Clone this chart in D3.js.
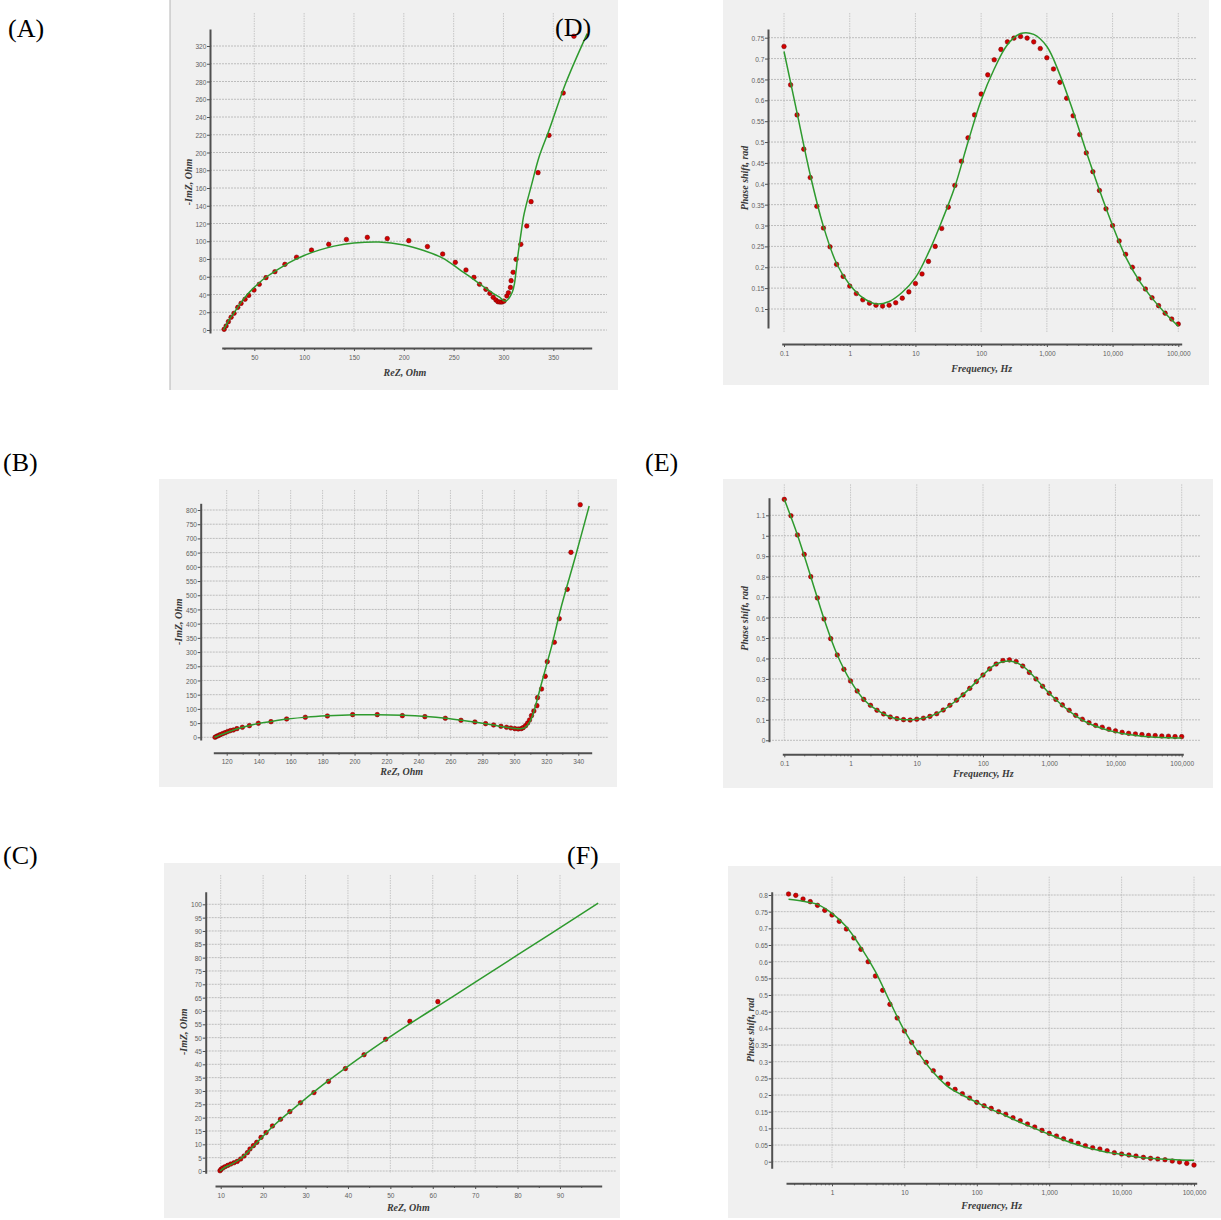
<!DOCTYPE html>
<html>
<head>
<meta charset="utf-8">
<script src="https://cdn.jsdelivr.net/npm/d3@7"></script>
<style>
  body { margin: 0; background: #fff; }
  svg { display: block; }
  .axis-title { font-family: 'Liberation Serif', 'Times New Roman', serif; font-weight: bold; font-style: italic; font-size: 10px; fill: #3a3a3a; }
  .panel-label { font-family: 'Liberation Serif', 'Times New Roman', serif; font-size: 26px; fill: #000; }
</style>
</head>
<body>
<svg id="chart"></svg>
<script>
// ---- Nyquist data (ReZ, -ImZ in Ohm) ----
let nyqA_re = [19.7, 21.7, 24, 26.7, 29.7, 33.4, 36.7, 40.7, 44.4, 49.7, 55, 61.7, 70.7, 80.7, 92.4, 107.4, 124.7, 142.4, 163.4, 183.4, 205, 223.7, 239, 251.7, 262.4, 270.4, 276, 282.4, 286.4, 289.7, 292.4, 294.4, 296.4, 298.4, 300.4, 303.4, 305, 307, 307.7, 309.7, 312.7, 317.4, 323.4, 327.7, 334.7, 345.7, 360, 370.7];
let nyqA_im = [0.75, 4.5, 9.4, 14.3, 18.8, 25.5, 30, 34.6, 39, 45, 51.5, 59, 65.7, 74, 82, 90, 96.5, 102, 104.4, 103, 100.7, 94, 85.6, 76.2, 67.6, 59.3, 51.5, 45.8, 41.3, 36.8, 33.8, 31.9, 31.5, 31.5, 32.5, 38.3, 42, 48, 55.6, 65, 79.6, 96.5, 117.2, 144.6, 177.3, 219.3, 267, 331];
let fitA_re = [19, 21, 25, 30, 36, 43, 50, 60, 72, 85, 100, 115, 130, 150, 175, 200, 220, 240, 256, 270, 281, 290, 296, 300.5, 303, 306, 309, 311, 312.5, 314, 315.7, 318, 320, 322.4, 327.7, 335.7, 345.7, 362.4, 384];
let fitA_im = [0, 4, 12, 20, 30, 40, 48, 58, 67, 76, 84, 90, 94.5, 98, 99.2, 95.8, 89.5, 80.5, 68, 57, 48, 41, 37, 33, 33, 36.5, 43, 52, 65, 80, 94, 112, 127, 139, 161.5, 195, 225, 278, 334];

let nyqB_re = [112.7, 113.7, 114.8, 116, 117.5, 119, 120.6, 122.3, 124.2, 126.4, 129.8, 134.2, 139.8, 147.7, 157.5, 169.2, 183, 198.8, 214.2, 229.9, 244, 256.8, 266.6, 275.3, 282, 287, 291.6, 295.1, 297.8, 300.3, 302.4, 304.3, 305.5, 307, 308.3, 309.5, 310.7, 312.2, 314.1, 314.5, 317, 319.3, 320.6, 325, 328.1, 333.1, 335.4, 341.2];
let nyqB_im = [0, 3.5, 5.9, 9.4, 12.9, 16.4, 20, 23.5, 25.8, 30.5, 35.2, 41, 49.3, 55, 64.5, 70.4, 75, 79.8, 79.8, 76.2, 72.7, 66.9, 59.8, 54, 48, 43.4, 38.7, 35.2, 32.8, 30.5, 29.3, 30.5, 34, 41, 50.4, 61, 76.2, 92.7, 111.4, 139.6, 170, 214.6, 266.2, 334.3, 417.5, 520.8, 651, 818.7];
let fitB_re = [112.3, 115, 120, 126, 134, 140, 148, 158, 170, 183, 200, 215, 230, 245, 257, 267, 276, 283, 289, 295, 300, 304, 306.6, 309.7, 311.8, 314.5, 317, 320.1, 323.3, 329.5, 337.9, 346.8];
let fitB_im = [0, 6, 17, 29, 41, 49, 56, 64, 71, 75.5, 79, 79.5, 77.5, 73, 67, 60, 53, 47, 41, 35, 31, 30, 34, 55, 84, 137, 190, 254, 320, 463, 630, 814];

let nyqC_re = [9.83, 10.07, 10.46, 11, 11.65, 12.35, 13.13, 13.9, 14.7, 15.5, 16.3, 16.9, 17.7, 18.5, 19.5, 20.7, 22.2, 24.1, 26.3, 28.8, 32, 35.4, 39.4, 43.8, 48.9, 54.6, 61.2];
let nyqC_im = [0.1, 0.6, 1.1, 1.6, 2.1, 2.6, 3.1, 3.6, 4.5, 5.6, 6.9, 8.25, 9.5, 10.75, 12.6, 14.4, 16.9, 19.4, 22.25, 25.6, 29.4, 33.6, 38.4, 43.6, 49.4, 56.1, 63.5];
let fitC_re = [9.83, 11, 12.6, 14.5, 16.1, 18.5, 22.4, 28.7, 35, 50, 65, 80, 99];
let fitC_im = [0, 1.4, 2.6, 4.4, 6.6, 10.6, 16.9, 25.4, 33.4, 50.4, 65.7, 81, 100.4];

// ---- Bode phase data (Frequency in Hz, phase shift in rad) ----
let freqHz = [
  0.1, 0.126, 0.158, 0.2, 0.251, 0.316, 0.398, 0.501, 0.631, 0.794,
  1, 1.26, 1.58, 2, 2.51, 3.16, 3.98, 5.01, 6.31, 7.94,
  10, 12.6, 15.8, 20, 25.1, 31.6, 39.8, 50.1, 63.1, 79.4,
  100, 126, 158, 200, 251, 316, 398, 501, 631, 794,
  1000, 1260, 1580, 2000, 2510, 3160, 3980, 5010, 6310, 7940,
  10000, 12600, 15800, 20000, 25100, 31600, 39800, 50100, 63100, 79400,
  100000
];
let phaseD = [
  0.729, 0.637, 0.565, 0.483, 0.415, 0.346, 0.294, 0.249, 0.207, 0.178,
  0.155, 0.137, 0.122, 0.114, 0.109, 0.107, 0.109, 0.115, 0.126, 0.141,
  0.161, 0.184, 0.214, 0.25, 0.293, 0.344, 0.396, 0.454, 0.51, 0.565,
  0.615, 0.661, 0.697, 0.722, 0.74, 0.749, 0.753, 0.749, 0.74, 0.724,
  0.702, 0.675, 0.643, 0.605, 0.563, 0.518, 0.474, 0.429, 0.384, 0.34,
  0.30, 0.263, 0.231, 0.2, 0.172, 0.148, 0.127, 0.108, 0.09, 0.076,
  0.064
];
let phaseE = [
  1.178, 1.098, 1.004, 0.909, 0.80, 0.696, 0.593, 0.497, 0.417, 0.347,
  0.29, 0.241, 0.20, 0.171, 0.147, 0.129, 0.114, 0.106, 0.101, 0.099,
  0.103, 0.108, 0.117, 0.13, 0.148, 0.171, 0.196, 0.222, 0.254, 0.287,
  0.319, 0.349, 0.373, 0.39, 0.393, 0.385, 0.363, 0.332, 0.30, 0.264,
  0.23, 0.20, 0.173, 0.147, 0.122, 0.103, 0.086, 0.073, 0.064, 0.054,
  0.046, 0.039, 0.034, 0.031, 0.028, 0.024, 0.023, 0.021, 0.02, 0.018,
  0.018
];
let freqF = freqHz.slice(4);
let phaseF = [
  0.803, 0.799, 0.788, 0.78, 0.769, 0.754,
  0.74, 0.721, 0.698, 0.671, 0.637, 0.60, 0.557, 0.514, 0.472, 0.431,
  0.392, 0.358, 0.327, 0.298, 0.273, 0.252, 0.233, 0.217, 0.204, 0.191,
  0.178, 0.168, 0.16, 0.15, 0.142, 0.132, 0.123, 0.113, 0.104, 0.094,
  0.085, 0.077, 0.069, 0.062, 0.055, 0.048, 0.042, 0.038, 0.033, 0.027,
  0.023, 0.02, 0.017, 0.013, 0.01, 0.008, 0.006, 0.002, -0.001, -0.005,
  -0.01
];

// fitted curves, sampled on every second frequency
let fitFreq = [0.1, 0.158, 0.251, 0.398, 0.631, 1, 1.58, 2.51, 3.98, 6.31, 10, 15.8, 25.1, 39.8, 63.1, 100, 158, 251, 398, 631, 1000, 1580, 2510, 3980, 6310, 10000, 15800, 25100, 39800, 63100, 100000];
let fitD = [0.717, 0.57, 0.421, 0.298, 0.209, 0.158, 0.127, 0.112, 0.118, 0.14, 0.175, 0.235, 0.31, 0.393, 0.50, 0.60, 0.675, 0.733, 0.76, 0.758, 0.729, 0.661, 0.573, 0.477, 0.385, 0.30, 0.225, 0.169, 0.126, 0.09, 0.059];
let fitE = [1.178, 1.004, 0.80, 0.593, 0.417, 0.29, 0.20, 0.147, 0.114, 0.101, 0.103, 0.117, 0.148, 0.196, 0.254, 0.319, 0.373, 0.388, 0.363, 0.30, 0.23, 0.17, 0.12, 0.082, 0.058, 0.04, 0.028, 0.02, 0.015, 0.012, 0.011];
let fitFreqF = fitFreq.slice(2);
let fitF = [0.787, 0.781, 0.772, 0.745, 0.705, 0.643, 0.57, 0.48, 0.393, 0.325, 0.268, 0.225, 0.20, 0.178, 0.157, 0.138, 0.118, 0.10, 0.082, 0.065, 0.05, 0.038, 0.028, 0.022, 0.015, 0.01, 0.007, 0.005, 0.004];

// ---- tick values ----
let ticksA_x = [50, 100, 150, 200, 250, 300, 350];
let ticksA_y = [0, 20, 40, 60, 80, 100, 120, 140, 160, 180, 200, 220, 240, 260, 280, 300, 320];
let ticksB_x = [120, 140, 160, 180, 200, 220, 240, 260, 280, 300, 320, 340];
let ticksB_y = [0, 50, 100, 150, 200, 250, 300, 350, 400, 450, 500, 550, 600, 650, 700, 750, 800];
let ticksC_x = [10, 20, 30, 40, 50, 60, 70, 80, 90];
let ticksC_y = [0, 5, 10, 15, 20, 25, 30, 35, 40, 45, 50, 55, 60, 65, 70, 75, 80, 85, 90, 95, 100];
let ticksFreq = [0.1, 1, 10, 100, 1000, 10000, 100000];
let ticksD_y = [0.1, 0.15, 0.2, 0.25, 0.3, 0.35, 0.4, 0.45, 0.5, 0.55, 0.6, 0.65, 0.7, 0.75];
let ticksE_y = [0, 0.1, 0.2, 0.3, 0.4, 0.5, 0.6, 0.7, 0.8, 0.9, 1, 1.1];
let ticksF_y = [0, 0.05, 0.1, 0.15, 0.2, 0.25, 0.3, 0.35, 0.4, 0.45, 0.5, 0.55, 0.6, 0.65, 0.7, 0.75, 0.8];

let nyqXTitle = 'ReZ, Ohm';
let nyqYTitle = '-ImZ, Ohm';
let bodeXTitle = 'Frequency, Hz';
let bodeYTitle = 'Phase shift, rad';

// ---- panel layout (page pixels) ----
let panels = [
  { id: 'A', label: '(A)', labelPos: [8, 37], box: [170, 0, 618, 390], leftRule: true,
    plot: [210, 607, 13, 333], xLog: false, xDom: [50, 350], xPx: [254.3, 553.3], yDom: [0, 320], yPx: [330, 46],
    xAxisY: 348, xAxisExt: [221.7, 591.7], yAxisX: 210, yAxisExt: [29, 333],
    xTicks: ticksA_x, yTicks: ticksA_y, xMinorStep: 10,
    xTitle: nyqXTitle, yTitle: nyqYTitle, xTitlePos: [405, 372], yTitlePos: [188, 182],
    px: nyqA_re, py: nyqA_im, fx: fitA_re, fy: fitA_im },
  { id: 'D', label: '(D)', labelPos: [555, 36], box: [723, 0, 1209, 385],
    plot: [768, 1196.7, 13, 333], xLog: true, xDom: [0.1, 100000], xPx: [784, 1178.3], yDom: [0.1, 0.75], yPx: [309, 37.7],
    xAxisY: 344, xAxisExt: [781.7, 1181.7], yAxisX: 768, yAxisExt: [29, 328],
    xTicks: ticksFreq, yTicks: ticksD_y,
    xTitle: bodeXTitle, yTitle: bodeYTitle, xTitlePos: [981.7, 368], yTitlePos: [744, 178],
    px: freqHz, py: phaseD, fx: fitFreq, fy: fitD },
  { id: 'B', label: '(B)', labelPos: [3, 471], box: [159, 479, 617, 787],
    plot: [200.7, 608.3, 490, 740], xLog: false, xDom: [120, 340], xPx: [226.7, 578.3], yDom: [0, 800], yPx: [737.3, 510],
    xAxisY: 752.7, xAxisExt: [213.3, 591.7], yAxisX: 200.7, yAxisExt: [503.3, 740],
    xTicks: ticksB_x, yTicks: ticksB_y, xMinorStep: 10,
    xTitle: nyqXTitle, yTitle: nyqYTitle, xTitlePos: [401.7, 771], yTitlePos: [178.3, 621.7],
    px: nyqB_re, py: nyqB_im, fx: fitB_re, fy: fitB_im },
  { id: 'E', label: '(E)', labelPos: [645, 471], box: [723, 479, 1213, 788],
    plot: [769, 1200, 484.3, 741.7], xLog: true, xDom: [0.1, 100000], xPx: [784.3, 1181.7], yDom: [0, 1.1], yPx: [740.3, 515.3],
    xAxisY: 754.3, xAxisExt: [782.3, 1183.3], yAxisX: 769, yAxisExt: [497.7, 741.7],
    xTicks: ticksFreq, yTicks: ticksE_y,
    xTitle: bodeXTitle, yTitle: bodeYTitle, xTitlePos: [983.3, 773.3], yTitlePos: [744, 618.3],
    px: freqHz, py: phaseE, fx: fitFreq, fy: fitE },
  { id: 'C', label: '(C)', labelPos: [3, 864], box: [164, 863, 620, 1218],
    plot: [205.7, 616.7, 875, 1173], xLog: false, xDom: [10, 90], xPx: [220.7, 560], yDom: [0, 100], yPx: [1171, 904.3],
    xAxisY: 1186, xAxisExt: [215, 601.7], yAxisX: 205.7, yAxisExt: [891.7, 1173.3],
    xTicks: ticksC_x, yTicks: ticksC_y, xMinorStep: 5,
    xTitle: nyqXTitle, yTitle: nyqYTitle, xTitlePos: [408.3, 1207.3], yTitlePos: [183.3, 1031.7],
    px: nyqC_re, py: nyqC_im, fx: fitC_re, fy: fitC_im },
  { id: 'F', label: '(F)', labelPos: [567, 864], box: [728, 866, 1221, 1218],
    plot: [771.7, 1215, 876.7, 1168], xLog: true, xDom: [1, 100000], xPx: [832, 1194], yDom: [0, 0.8], yPx: [1161.7, 895],
    xAxisY: 1183.3, xAxisExt: [786, 1196.7], yAxisX: 771.7, yAxisExt: [891.7, 1168.3],
    xTicks: ticksFreq, yTicks: ticksF_y,
    xTitle: bodeXTitle, yTitle: bodeYTitle, xTitlePos: [991.7, 1205], yTitlePos: [750.7, 1030],
    px: freqF, py: phaseF, fx: fitFreqF, fy: fitF }
];

let tickFont = "'Liberation Sans', Arial, sans-serif";
let axisColor = '#505050';

let svg = d3.select('#chart')
  .attr('width', 1221)
  .attr('height', 1220);

let fmtLinear = (v) => String(+v.toFixed(3));
let fmtLog = d3.format(',');

// style the tick labels and lines of an axis group (labels squeezed to look condensed)
let styleAxis = (g, keepDomain) => {
  g.attr('font-family', tickFont).attr('font-size', 8);
  g.select('.domain')
    .attr('stroke', keepDomain ? axisColor : 'none')
    .attr('stroke-width', 2);
  g.selectAll('.tick line').attr('stroke', axisColor);
  g.selectAll('.tick text')
    .attr('fill', '#606060')
    .attr('transform', 'scale(0.82, 1)');
};

let drawPanel = (p) => {
  let g = svg.append('g').attr('id', 'panel-' + p.id);
  let [left, right, top, bottom] = p.plot;

  // gray panel background
  g.append('rect')
    .attr('x', p.box[0]).attr('y', p.box[1])
    .attr('width', p.box[2] - p.box[0]).attr('height', p.box[3] - p.box[1])
    .attr('fill', '#f0f0f0');
  if (p.leftRule) {
    g.append('line')
      .attr('x1', p.box[0]).attr('x2', p.box[0])
      .attr('y1', p.box[1]).attr('y2', p.box[3])
      .attr('stroke', '#b4b4b4');
  }

  // scales from two known ticks
  let xScale = (p.xLog ? d3.scaleLog() : d3.scaleLinear()).domain(p.xDom).range(p.xPx);
  let yScale = d3.scaleLinear().domain(p.yDom).range(p.yPx);

  // gridlines
  let gridX = p.xTicks.filter((v) => xScale(v) >= left - 0.5 && xScale(v) <= right + 0.5);
  g.append('g').selectAll('line')
    .data(gridX)
    .join('line')
    .attr('x1', (d) => xScale(d)).attr('x2', (d) => xScale(d))
    .attr('y1', top).attr('y2', bottom)
    .attr('stroke', '#bcbcbc')
    .attr('stroke-width', 0.8)
    .attr('stroke-dasharray', '1.5,1');
  g.append('g').selectAll('line')
    .data(p.yTicks)
    .join('line')
    .attr('x1', left).attr('x2', right)
    .attr('y1', (d) => yScale(d)).attr('y2', (d) => yScale(d))
    .attr('stroke', '#b0b0b0')
    .attr('stroke-width', 0.8)
    .attr('stroke-dasharray', '2,1');

  // detached axes: copies of the scales spanning the drawn axis lines
  let xAxisScale = xScale.copy().domain(p.xAxisExt.map((v) => xScale.invert(v))).range(p.xAxisExt);
  let yAxisScale = yScale.copy().domain(p.yAxisExt.map((v) => yScale.invert(v))).range(p.yAxisExt);
  let xLo = Math.min(...xAxisScale.domain());
  let xHi = Math.max(...xAxisScale.domain());

  let minor = [];
  if (p.xLog) {
    ticksFreq.forEach((dec) => {
      [2, 3, 4, 5, 6, 7, 8, 9].forEach((m) => minor.push(dec * m));
    });
  } else {
    for (let v = Math.ceil(xLo / p.xMinorStep) * p.xMinorStep; v <= xHi; v += p.xMinorStep) minor.push(v);
  }
  minor = minor.filter((v) => v >= xLo && v <= xHi && !p.xTicks.includes(v));

  g.append('g')
    .attr('transform', `translate(0, ${p.xAxisY})`)
    .call(d3.axisBottom(xAxisScale).tickValues(minor).tickFormat('').tickSize(2).tickSizeOuter(0))
    .call((a) => styleAxis(a, false));

  g.append('g')
    .attr('transform', `translate(0, ${p.xAxisY})`)
    .call(d3.axisBottom(xAxisScale)
      .tickValues(p.xTicks.filter((v) => v >= xLo && v <= xHi))
      .tickFormat(p.xLog ? fmtLog : fmtLinear)
      .tickSize(3).tickPadding(3).tickSizeOuter(0))
    .call((a) => styleAxis(a, true));

  g.append('g')
    .attr('transform', `translate(${p.yAxisX}, 0)`)
    .call(d3.axisLeft(yAxisScale)
      .tickValues(p.yTicks)
      .tickFormat(fmtLinear)
      .tickSize(3).tickPadding(1.5).tickSizeOuter(0))
    .call((a) => styleAxis(a, true));

  // axis titles
  g.append('text')
    .attr('class', 'axis-title')
    .attr('x', p.xTitlePos[0]).attr('y', p.xTitlePos[1])
    .attr('dy', '0.35em')
    .attr('text-anchor', 'middle')
    .text(p.xTitle);
  g.append('text')
    .attr('class', 'axis-title')
    .attr('transform', `translate(${p.yTitlePos[0]}, ${p.yTitlePos[1]}) rotate(-90)`)
    .attr('dy', '0.35em')
    .attr('text-anchor', 'middle')
    .text(p.yTitle);

  // measured points
  g.append('g').selectAll('circle')
    .data(d3.zip(p.px, p.py))
    .join('circle')
    .attr('cx', (d) => xScale(d[0]))
    .attr('cy', (d) => yScale(d[1]))
    .attr('r', 2.3)
    .attr('fill', '#d40000')
    .attr('stroke', '#6a0000')
    .attr('stroke-width', 0.5);

  // fitted curve
  let line = d3.line()
    .x((d) => xScale(d[0]))
    .y((d) => yScale(d[1]))
    .curve(d3.curveCatmullRom.alpha(0.5));
  g.append('path')
    .datum(d3.zip(p.fx, p.fy))
    .attr('d', line)
    .attr('fill', 'none')
    .attr('stroke', '#2e9a2e')
    .attr('stroke-width', 1.5);
};

panels.forEach(drawPanel);

// panel letters on top of everything
svg.append('g').selectAll('text')
  .data(panels)
  .join('text')
  .attr('class', 'panel-label')
  .attr('x', (p) => p.labelPos[0])
  .attr('y', (p) => p.labelPos[1])
  .text((p) => p.label);
</script>
</body>
</html>
